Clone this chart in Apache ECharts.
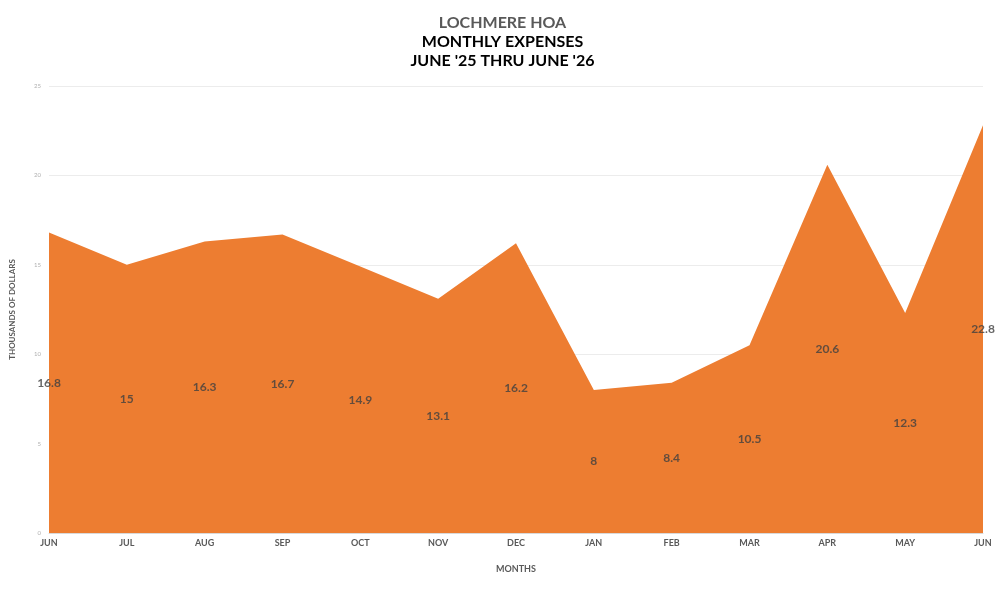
<!DOCTYPE html>
<html>
<head>
<meta charset="utf-8">
<script src="https://cdn.jsdelivr.net/npm/echarts@6/dist/echarts.min.js"></script>
<style>
  html, body { margin: 0; padding: 0; background: #fff; }
  #chart { width: 1005px; height: 591px; }
</style>
</head>
<body>
<div id="chart"></div>
<script>
const months = ['JUN', 'JUL', 'AUG', 'SEP', 'OCT', 'NOV', 'DEC', 'JAN', 'FEB', 'MAR', 'APR', 'MAY', 'JUN']
const expenses = [16.8, 15, 16.3, 16.7, 14.9, 13.1, 16.2, 8, 8.4, 10.5, 20.6, 12.3, 22.8]
const yTicks = [0, 5, 10, 15, 20, 25]

const chart = echarts.init(document.getElementById('chart'))

// value labels sit in the middle of the filled area
const labelPoints = expenses.map((v, i) => ({ value: [i, v / 2], raw: v }))

chart.setOption({
    animation: false,
    title: {
        text: '{a|LOCHMERE HOA}\n{b|MONTHLY EXPENSES}\n{b|JUNE \'25 THRU JUNE \'26}',
        left: 'center',
        top: 8,
        textStyle: {
            rich: {
                a: { fontFamily: 'Lato', fontWeight: 'bold', fontSize: 16, color: '#595959', lineHeight: 19 },
                b: { fontFamily: 'Lato', fontWeight: 'bold', fontSize: 16, color: '#000', lineHeight: 19 }
            }
        }
    },
    grid: { left: 48, right: 22, top: 86, bottom: 58 },
    xAxis: {
        type: 'category',
        data: months,
        boundaryGap: false,
        name: 'MONTHS',
        nameLocation: 'middle',
        nameGap: 32,
        nameTextStyle: { fontFamily: 'Lato', fontWeight: 'bold', fontSize: 9, color: '#595959' },
        axisLine: { lineStyle: { color: '#d9d9d9' } },
        axisTick: { show: false },
        axisLabel: { fontFamily: 'Lato', fontWeight: 'bold', fontSize: 9, color: '#595959', margin: 6 }
    },
    yAxis: {
        type: 'value',
        min: yTicks[0],
        max: yTicks[yTicks.length - 1],
        interval: 5,
        name: 'THOUSANDS OF DOLLARS',
        nameLocation: 'middle',
        nameGap: 33,
        nameTextStyle: { fontFamily: 'Lato', fontWeight: 'bold', fontSize: 8, color: '#595959' },
        axisLine: { show: false },
        axisTick: { show: false },
        axisLabel: { fontFamily: 'Lato', fontSize: 6, color: '#b0b0b0', margin: 8 },
        splitLine: { lineStyle: { color: '#ececec' } }
    },
    series: [
        {
            type: 'line',
            data: expenses,
            symbol: 'none',
            z: 2,
            lineStyle: { width: 0 },
            itemStyle: { color: '#ED7D31' },
            areaStyle: { color: '#ED7D31', opacity: 1 }
        },
        {
            type: 'scatter',
            data: labelPoints,
            symbolSize: 0,
            silent: true,
            z: 10,
            clip: false,
            label: {
                show: true,
                position: 'inside',
                formatter: p => p.data.raw,
                fontFamily: 'Lato',
                fontWeight: 'bold',
                fontSize: 12,
                color: '#404040'
            }
        }
    ]
})
</script>
</body>
</html>
